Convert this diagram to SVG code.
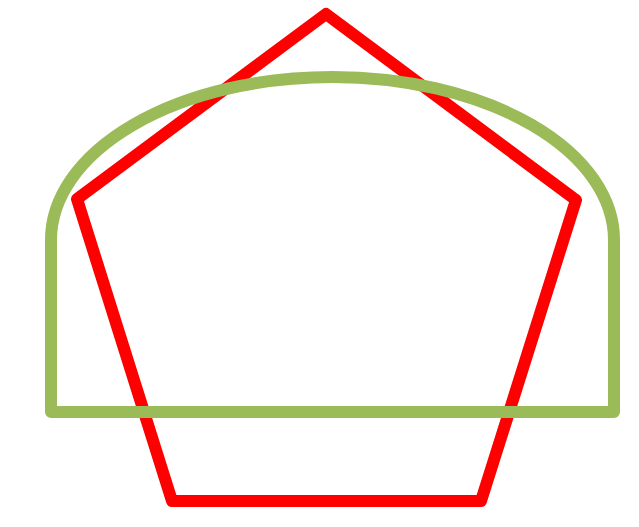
<svg xmlns="http://www.w3.org/2000/svg" width="639" height="527" viewBox="0 0 639 527">
<style>
.s{fill:none;stroke-linejoin:round;stroke-width:12}
</style>
<rect width="639" height="527" fill="#ffffff"/>
<g id="pentagon">
<polygon class="s" stroke="#ff0000" points="326,14 576,200 481,501 172,501 77,199"/>
</g>
<g id="arch">
<path class="s" stroke="#9bbb59" d="M51,412 L51,240 A281.5,163 0 0 1 614,240 L614,412 Z"/>
</g>
<g id="connectors"></g>
</svg>
